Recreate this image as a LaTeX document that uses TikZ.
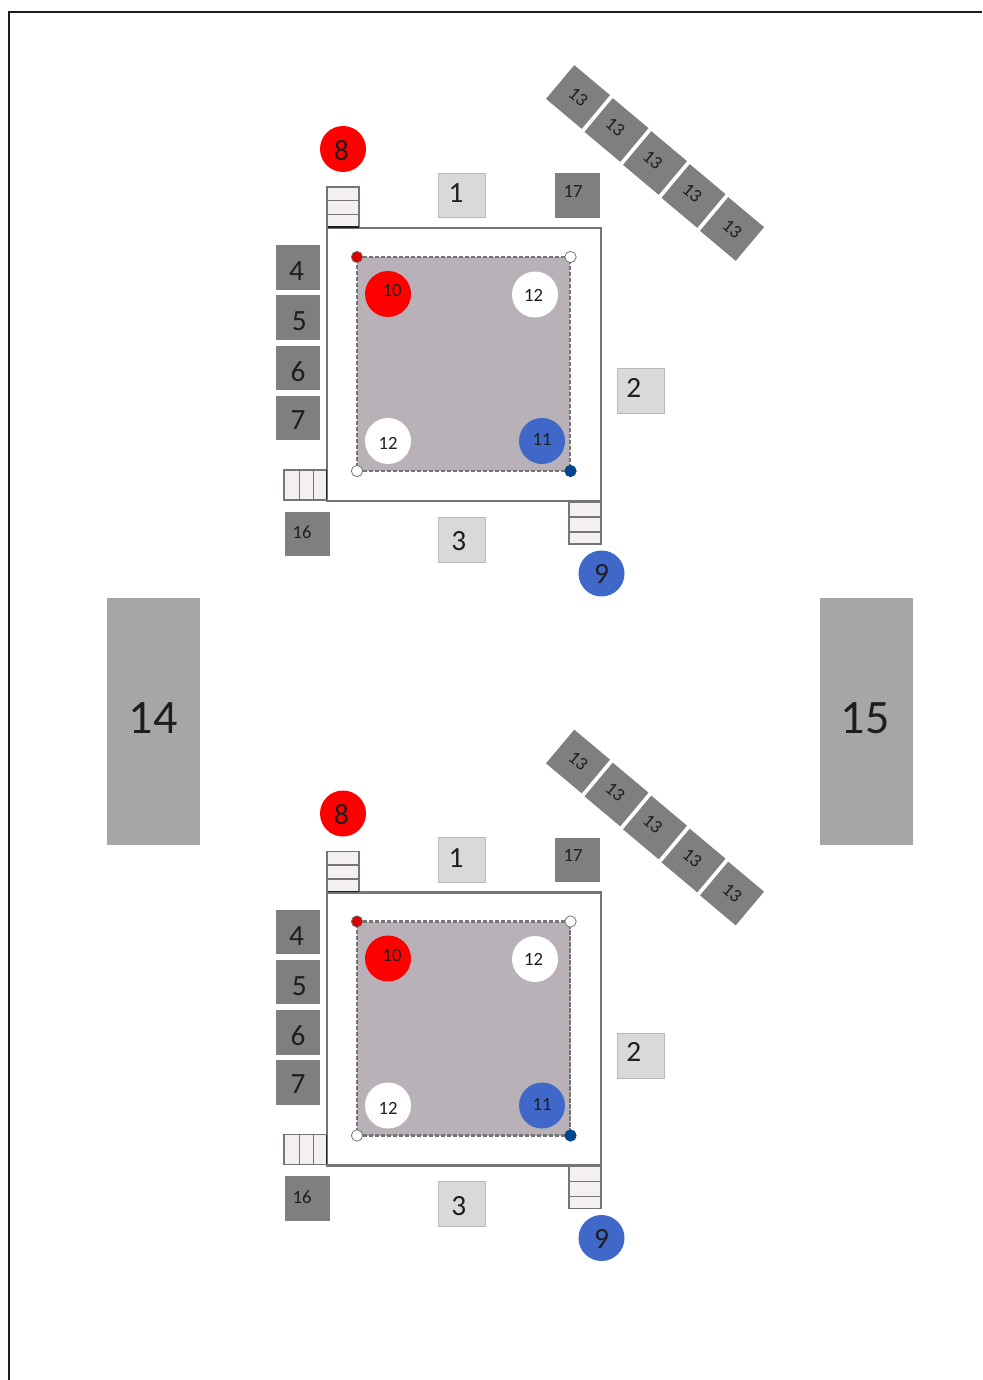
\documentclass[tikz,border=0pt]{standalone}
\usepackage{fontspec}
\setmainfont{Carlito}
\definecolor{ink}{HTML}{1E1E1E}
\definecolor{lightbox}{HTML}{D9D9D9}
\definecolor{darkbox}{HTML}{7F7F7F}
\definecolor{bigbox}{HTML}{A6A6A6}
\definecolor{plate}{HTML}{B8B1B7}
\definecolor{edge}{HTML}{757575}
\definecolor{myblue}{HTML}{3F68C8}
\definecolor{dotblue}{HTML}{00468C}
\definecolor{stair}{HTML}{F4F0F1}
% text offset inside a node: dx, dy (px, y down), text
\newcommand{\tx}[3]{\makebox[0pt][c]{\hspace*{#1pt}\hspace*{#1pt}\smash{\raisebox{\dimexpr-#2pt*3/4-0.31em\relax}{#3}}}}
\newcommand{\fs}[1]{\fontsize{#1}{#1}\selectfont}
\tikzset{
  x=0.75pt,y=-0.75pt,
  allbox/.style={rectangle,inner sep=0pt,outer sep=0pt,text=ink},
  lbox/.style={allbox,fill=lightbox,draw=lightbox!85!black,line width=0.5pt,minimum width=35.5pt,minimum height=33.5pt,font=\fs{22}},
  dbox/.style={allbox,fill=darkbox,minimum width=33pt,minimum height=33.5pt,font=\fs{22}},
  sbox/.style={dbox,font=\fs{14}},
  tilebox/.style={allbox,fill=darkbox,minimum width=35pt,minimum height=33pt,rotate=-40,font=\fs{14}},
  bigblock/.style={allbox,fill=bigbox,minimum width=69.75pt,minimum height=185.25pt,font=\fs{36}},
  disc/.style={circle,inner sep=0pt,outer sep=0pt,minimum size=34.5pt,text=ink,font=\fs{22}},
  sdisc/.style={disc,font=\fs{14}},
  corner/.style={circle,inner sep=0pt,minimum size=8.5pt,draw=edge,line width=0.6pt},
  stairs/.style={rectangle,inner sep=0pt,outer sep=0pt,fill=stair,draw=edge,line width=1.4pt},
  tread/.style={edge,line width=1.2pt},
  unit/.pic={
    \node[rectangle,draw=edge,fill=white,line width=1.8pt,minimum width=205.5pt,minimum height=204.75pt,inner sep=0pt] (-room) at (464,364.5) {};
    \node[rectangle,draw=edge,fill=plate,line width=1.8pt,dash pattern=on 3.2pt off 1.3pt,minimum width=159.75pt,minimum height=160.5pt,inner sep=0pt] (-plate) at (463.5,364) {};
    \node[corner,fill=red!85!black] (-cTL) at (357,257) {};
    \node[corner,fill=white] (-cTR) at (570.5,257) {};
    \node[corner,fill=white] (-cBL) at (357,471) {};
    \node[corner,fill=dotblue,draw=dotblue] (-cBR) at (570.5,471) {};
    % stairs
    \node[stairs,minimum width=24pt,minimum height=30.75pt] (-st8) at (343,207.5) {};
    \draw[tread] (327,200.5) -- (359,200.5) (327,214.5) -- (359,214.5);
    \draw[ink,line width=1.2pt] (328,227) -- (359,227);
    \node[stairs,minimum width=24pt,minimum height=31.5pt] (-st9) at (585,523) {};
    \draw[tread] (569,517) -- (601,517) (569,532) -- (601,532);
    \node[stairs,minimum width=32.25pt,minimum height=22.5pt] (-st16) at (305.5,485) {};
    \draw[tread] (299.5,470) -- (299.5,500) (313.5,470) -- (313.5,500);
    \draw[ink,line width=1.2pt] (326.5,470) -- (326.5,499);
    % light boxes
    \node[lbox] (-n1) at (461.5,195.5) {\tx{-4}{-2}{1}};
    \node[lbox] (-n2) at (640.5,391) {\tx{-5}{-3}{2}};
    \node[lbox] (-n3) at (461.5,539.5) {\tx{-2}{2}{3}};
    % dark boxes
    \node[dbox] (-n4) at (298,267.5) {\tx{-1}{4}{4}};
    \node[dbox] (-n5) at (298,317.5) {\tx{1}{4}{5}};
    \node[dbox] (-n6) at (298,368) {\tx{0}{4}{6}};
    \node[dbox] (-n7) at (298,418) {\tx{0}{2}{7}};
    \node[sbox,minimum width=33.75pt] (-n16) at (307.5,534) {\tx{-4}{-1}{16}};
    \node[sbox,minimum width=33.75pt] (-n17) at (577,195.5) {\tx{-3}{-4}{17}};
    % tiles
    \node[tilebox] (-t1) at (578,97) {\tx{0}{0}{13}};
    \node[tilebox] (-t2) at (616.5,130) {\tx{-2}{-1}{13}};
    \node[tilebox] (-t3) at (655,163) {\tx{-3}{-1}{13}};
    \node[tilebox] (-t4) at (693.5,196) {\tx{-2}{-1}{13}};
    \node[tilebox] (-t5) at (732,229) {\tx{0}{0}{13}};
    % discs
    \node[disc,fill=red] (-n8) at (343,149) {\tx{-1}{2}{8}};
    \node[disc,fill=myblue] (-n9) at (601.5,573.5) {\tx{0}{1}{9}};
    \node[sdisc,fill=red] (-n10) at (388,294) {\tx{3}{-3}{10}};
    \node[sdisc,fill=myblue] (-n11) at (542,441) {\tx{0}{-1}{11}};
    \node[sdisc,fill=white] (-n12a) at (535,294.5) {\tx{-1}{1}{12}};
    \node[sdisc,fill=white] (-n12b) at (388,441) {\tx{0}{3}{12}};
  }
}
\begin{document}
\begin{tikzpicture}
  \useasboundingbox (0,0) rectangle (982,1380);
  \draw[ink,line width=1.5pt] (8.5,1380) -- (8.5,12) -- (982,12);
  \node[bigblock] (b14) at (153,721.5) {\tx{0}{-3}{14}};
  \node[bigblock] (b15) at (866.5,721.5) {\tx{-1}{-3}{15}};
  \pic (u1) at (0,0) {unit};
  \pic (u2) at (0,664.5) {unit};
\end{tikzpicture}
\end{document}
